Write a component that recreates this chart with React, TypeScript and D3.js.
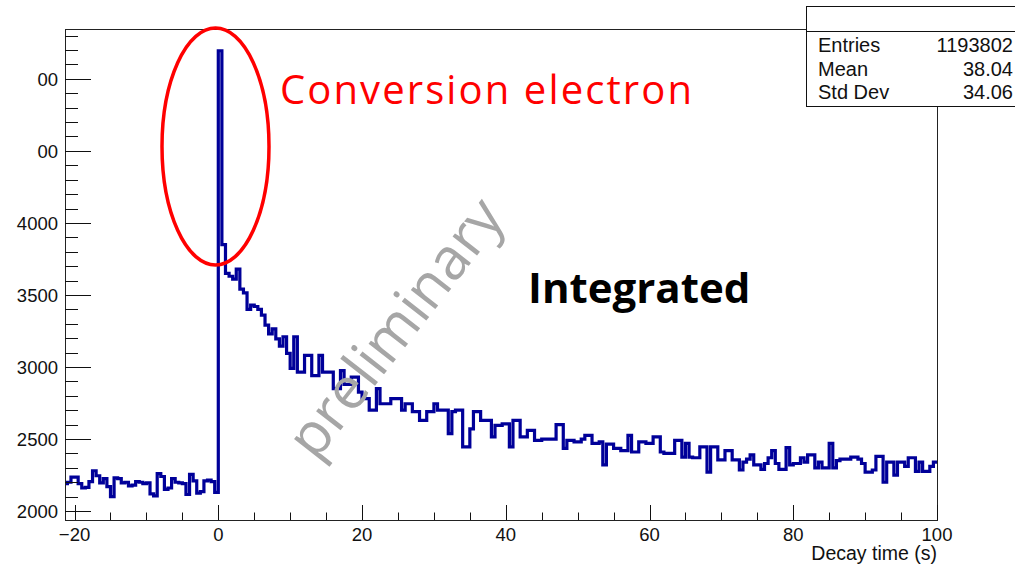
import { useEffect, useRef } from 'react'
import * as d3 from 'd3'

const W = 1015
const H = 568

// histogram binning (seconds)
const BIN_START = -21.5
const BIN_WIDTH = 0.5

// counts per bin before the trigger, -21.5 .. 0 s
const preCounts = [
  2190, 2200, 2235, 2235, 2190, 2160, 2165, 2205, 2280, 2245,
  2195, 2225, 2170, 2100, 2230, 2225, 2195, 2200, 2175, 2180,
  2205, 2200, 2190, 2195, 2120, 2105, 2260, 2240, 2150, 2160,
  2225, 2200, 2195, 2190, 2115, 2255, 2210, 2125, 2135, 2210,
  2215, 2205, 2130,
]

// counts per bin after the trigger, 0 .. 100 s
const postCounts = [
  5195, 3850, 3650, 3630, 3610, 3680, 3540, 3515, 3400, 3430,
  3420, 3400, 3360, 3290, 3230, 3265, 3195, 3145, 3210, 3095,
  2990, 3210, 2965, 2965, 3080, 3080, 2940, 2940, 3080, 2965,
  2965, 2965, 2850, 2850, 2975, 2880, 2880, 2930, 2930, 2825,
  2780, 2780, 2700, 2700, 2850, 2745, 2745, 2745, 2780, 2780,
  2780, 2700, 2745, 2745, 2690, 2690, 2630, 2630, 2690, 2690,
  2745, 2700, 2700, 2700, 2537, 2690, 2700, 2700, 2445, 2445,
  2570, 2690, 2690, 2630, 2630, 2630, 2515, 2595, 2595, 2605,
  2605, 2445, 2630, 2630, 2515, 2515, 2560, 2560, 2490, 2490,
  2500, 2500, 2500, 2500, 2600, 2600, 2435, 2490, 2490, 2480,
  2480, 2500, 2525, 2525, 2470, 2470, 2480, 2320, 2465, 2465,
  2435, 2435, 2420, 2420, 2525, 2410, 2410, 2480, 2480, 2470,
  2470, 2515, 2515, 2410, 2400, 2400, 2400, 2490, 2490, 2375,
  2470, 2375, 2370, 2370, 2445, 2445, 2270, 2445, 2445, 2355,
  2355, 2420, 2420, 2355, 2355, 2285, 2340, 2360, 2390, 2320,
  2320, 2290, 2330, 2370, 2420, 2330, 2290, 2290, 2440, 2320,
  2330, 2330, 2370, 2340, 2390, 2390, 2300, 2340, 2300, 2300,
  2470, 2300, 2350, 2360, 2360, 2360, 2375, 2375, 2360, 2330,
  2270, 2270, 2285, 2380, 2380, 2200, 2340, 2340, 2250, 2340,
  2340, 2310, 2370, 2370, 2275, 2340, 2275, 2275, 2310, 2340,
]

const xMajorTicks = [-20, 0, 20, 40, 60, 80, 100]
const xTickLabels = ['\u221220', '0', '20', '40', '60', '80', '100']
const yMajorTicks = [2000, 2500, 3000, 3500, 4000, 4500, 5000]
// the two top labels are cut off in the original slide
const yTickLabels = ['2000', '2500', '3000', '3500', '4000', '00', '00']

const statsLabels = ['Entries', 'Mean', 'Std Dev']
const statsValues = ['1193802', '38.04', '34.06']

const ROOT_FONT = '"Liberation Sans", Arial, Helvetica, sans-serif'
const SLIDE_FONT = '"Open Sans", "Noto Sans", sans-serif'
const LINE_COLOR = '#000099'

export default function App() {
  const svgRef = useRef<SVGSVGElement>(null)

  useEffect(() => {
    document.body.style.margin = '0'
    if (!svgRef.current) return
    const svg = d3.select(svgRef.current)
    svg.selectAll('*').remove()

    const frame = { left: 65, right: 937, top: 29, bottom: 520 }

    const x = d3.scaleLinear().domain([-21.33, 100]).range([frame.left, frame.right])
    const y = d3.scaleLinear().domain([1938, 5346]).range([frame.bottom, frame.top])

    const counts = [...preCounts, ...postCounts]
    const pts: [number, number][] = counts.map((c, i) => [BIN_START + i * BIN_WIDTH, c])
    pts.push([BIN_START + counts.length * BIN_WIDTH, counts[counts.length - 1]])

    svg.append('rect').attr('width', W).attr('height', H).attr('fill', '#fff')

    svg.append('clipPath').attr('id', 'frame-clip')
      .append('rect')
      .attr('x', frame.left)
      .attr('y', frame.top)
      .attr('width', frame.right - frame.left)
      .attr('height', frame.bottom - frame.top)

    // histogram outline
    const line = d3.line<[number, number]>()
      .x(d => x(d[0]))
      .y(d => y(d[1]))
      .curve(d3.curveStepAfter)

    svg.append('path')
      .datum(pts)
      .attr('clip-path', 'url(#frame-clip)')
      .attr('d', line)
      .attr('fill', 'none')
      .attr('stroke', LINE_COLOR)
      .attr('stroke-width', 3.2)
      .attr('stroke-linejoin', 'miter')

    // frame
    svg.append('rect')
      .attr('x', frame.left + 0.5)
      .attr('y', frame.top + 0.5)
      .attr('width', frame.right - frame.left)
      .attr('height', frame.bottom - frame.top)
      .attr('fill', 'none')
      .attr('stroke', '#222')
      .attr('stroke-width', 1)

    const axes = svg.append('g').attr('stroke', '#111').attr('stroke-width', 1)

    // y ticks (inside the frame)
    const yMinor = d3.range(2000, 5346, 100).filter(v => v % 500 !== 0)
    axes.selectAll('line.ymaj')
      .data(yMajorTicks)
      .join('line')
      .attr('class', 'ymaj')
      .attr('x1', frame.left)
      .attr('x2', frame.left + 26)
      .attr('y1', d => Math.round(y(d)) + 0.5)
      .attr('y2', d => Math.round(y(d)) + 0.5)
    axes.selectAll('line.ymin')
      .data(yMinor)
      .join('line')
      .attr('class', 'ymin')
      .attr('x1', frame.left)
      .attr('x2', frame.left + 13)
      .attr('y1', d => Math.round(y(d)) + 0.5)
      .attr('y2', d => Math.round(y(d)) + 0.5)

    // x ticks
    const xMinor = d3.range(-20, 100.01, 5).filter(v => v % 20 !== 0)
    axes.selectAll('line.xmaj')
      .data(xMajorTicks)
      .join('line')
      .attr('class', 'xmaj')
      .attr('x1', d => Math.round(x(d)) + 0.5)
      .attr('x2', d => Math.round(x(d)) + 0.5)
      .attr('y1', frame.bottom)
      .attr('y2', frame.bottom - 15)
    axes.selectAll('line.xmin')
      .data(xMinor)
      .join('line')
      .attr('class', 'xmin')
      .attr('x1', d => Math.round(x(d)) + 0.5)
      .attr('x2', d => Math.round(x(d)) + 0.5)
      .attr('y1', frame.bottom)
      .attr('y2', frame.bottom - 7.5)

    // tick labels
    svg.append('g')
      .selectAll('text')
      .data(yMajorTicks)
      .join('text')
      .attr('x', 58)
      .attr('y', d => y(d) + 7)
      .attr('text-anchor', 'end')
      .attr('font-family', ROOT_FONT)
      .attr('font-size', 18.5)
      .attr('fill', '#111')
      .text((d, i) => yTickLabels[i])

    svg.append('g')
      .selectAll('text')
      .data(xMajorTicks)
      .join('text')
      .attr('x', d => x(d))
      .attr('y', 541)
      .attr('text-anchor', 'middle')
      .attr('font-family', ROOT_FONT)
      .attr('font-size', 18.5)
      .attr('fill', '#111')
      .text((d, i) => xTickLabels[i])

    svg.append('text')
      .attr('x', frame.right)
      .attr('y', 560)
      .attr('text-anchor', 'end')
      .attr('font-family', ROOT_FONT)
      .attr('font-size', 19.5)
      .attr('fill', '#111')
      .text('Decay time (s)')

    // stats box
    const stats = svg.append('g')
    stats.append('rect')
      .attr('x', 806.5)
      .attr('y', 6.5)
      .attr('width', 260)
      .attr('height', 100)
      .attr('fill', '#fff')
      .attr('stroke', '#111')
    stats.append('line')
      .attr('x1', 806).attr('x2', W)
      .attr('y1', 31.5).attr('y2', 31.5)
      .attr('stroke', '#111')
    statsLabels.forEach((lab, i) => {
      stats.append('text')
        .attr('x', 818)
        .attr('y', 52 + i * 23.5)
        .attr('font-family', ROOT_FONT)
        .attr('font-size', 20)
        .attr('fill', '#111')
        .text(lab)
      stats.append('text')
        .attr('x', 1013)
        .attr('y', 52 + i * 23.5)
        .attr('text-anchor', 'end')
        .attr('font-family', ROOT_FONT)
        .attr('font-size', 20)
        .attr('fill', '#111')
        .text(statsValues[i])
    })

    // slide annotations
    svg.append('text')
      .attr('transform', 'translate(411,340) rotate(-52)')
      .attr('text-anchor', 'middle')
      .attr('font-family', SLIDE_FONT)
      .attr('font-size', 58)
      .attr('fill', '#a6a6a6')
      .text('preliminary')

    svg.append('ellipse')
      .attr('cx', 215.5)
      .attr('cy', 146.5)
      .attr('rx', 53.5)
      .attr('ry', 118.5)
      .attr('fill', 'none')
      .attr('stroke', '#ff0000')
      .attr('stroke-width', 3.5)

    svg.append('text')
      .attr('x', 280)
      .attr('y', 104)
      .attr('font-family', SLIDE_FONT)
      .attr('font-size', 40)
      .attr('fill', '#ff0000')
      .attr('textLength', 412)
      .attr('lengthAdjust', 'spacing')
      .text('Conversion electron')

    svg.append('text')
      .attr('x', 528)
      .attr('y', 303)
      .attr('font-family', SLIDE_FONT)
      .attr('font-size', 42)
      .attr('font-weight', 'bold')
      .attr('fill', '#000')
      .text('Integrated')
  }, [])

  return (
    <svg
      ref={svgRef}
      width={W}
      height={H}
      style={{ display: 'block', position: 'absolute', left: 0, top: 0 }}
    />
  )
}
